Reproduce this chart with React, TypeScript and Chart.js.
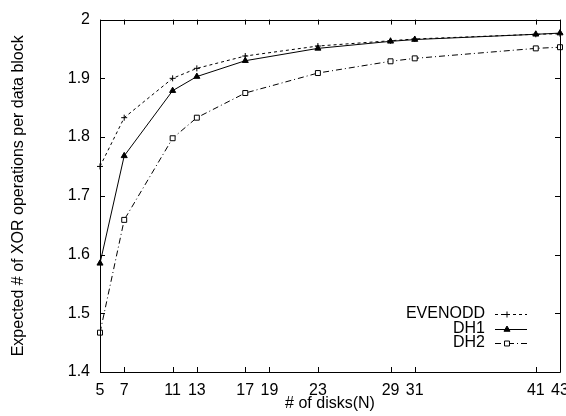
import React, { useEffect, useRef } from "react";
import { Chart, registerables } from "chart.js";
import { drawPoint } from "chart.js/helpers";

Chart.register(...registerables);

const xValues = [5, 7, 11, 13, 17, 23, 29, 31, 41, 43];
const xTicks = [5, 7, 11, 13, 17, 19, 23, 29, 31, 41, 43];
const yTicks = [1.4, 1.5, 1.6, 1.7, 1.8, 1.9, 2.0];
const evenodd = [1.75, 1.833, 1.9, 1.917, 1.938, 1.955, 1.964, 1.967, 1.975, 1.976];
const dh1 = [1.585, 1.768, 1.879, 1.903, 1.93, 1.951, 1.963, 1.966, 1.975, 1.977];
const dh2 = [1.467, 1.659, 1.798, 1.833, 1.875, 1.909, 1.929, 1.934, 1.951, 1.953];
const seriesNames = ["EVENODD", "DH1", "DH2"];

const FONT = "'Liberation Sans', Arial, Helvetica, sans-serif";

const framePlugin = {
  id: "frame",
  afterDatasetsDraw(chart: any) {
    const { ctx, chartArea } = chart;
    const { left, right, top, bottom } = chartArea;
    const xs = chart.scales.x;
    const ys = chart.scales.y;
    const tl = 5;
    ctx.save();
    ctx.strokeStyle = "#000";
    ctx.lineWidth = 1;
    ctx.setLineDash([]);
    ctx.beginPath();
    ctx.rect(Math.round(left) + 0.5, Math.round(top) + 0.5, Math.round(right - left), Math.round(bottom - top));
    ctx.stroke();
    ctx.beginPath();
    xs.ticks.forEach((t: any) => {
      const px = Math.round(xs.getPixelForValue(t.value)) + 0.5;
      ctx.moveTo(px, bottom);
      ctx.lineTo(px, bottom - tl);
      ctx.moveTo(px, top);
      ctx.lineTo(px, top + tl);
    });
    ys.ticks.forEach((t: any) => {
      const py = Math.round(ys.getPixelForValue(t.value)) + 0.5;
      ctx.moveTo(left, py);
      ctx.lineTo(left + tl, py);
      ctx.moveTo(right, py);
      ctx.lineTo(right - tl, py);
    });
    ctx.stroke();
    ctx.restore();
  },
};

const legendPlugin = {
  id: "customLegend",
  afterDraw(chart: any) {
    const { ctx, chartArea } = chart;
    const { right, bottom } = chartArea;
    const textRight = right - 75;
    const x0 = right - 65;
    const x1 = right - 33;
    const y0 = bottom - 58;
    const step = 14.5;
    ctx.save();
    chart.data.datasets.forEach((ds: any, i: number) => {
      const y = y0 + i * step;
      ctx.font = `16px ${FONT}`;
      ctx.fillStyle = "#000";
      ctx.textAlign = "right";
      ctx.textBaseline = "middle";
      ctx.fillText(ds.label, textRight, y);
      ctx.strokeStyle = ds.borderColor;
      ctx.lineWidth = ds.borderWidth;
      ctx.setLineDash(ds.borderDash || []);
      ctx.beginPath();
      ctx.moveTo(x0, Math.round(y) + 0.5);
      ctx.lineTo(x1, Math.round(y) + 0.5);
      ctx.stroke();
      ctx.setLineDash([]);
      ctx.fillStyle = ds.pointBackgroundColor;
      ctx.strokeStyle = ds.pointBorderColor;
      ctx.lineWidth = 1;
      drawPoint(ctx, {
        pointStyle: ds.pointStyle,
        radius: ds.pointRadius,
        borderWidth: 1,
        rotation: 0,
      } as any, (x0 + x1) / 2 - 4, Math.round(y) + 0.5);
    });
    ctx.restore();
  },
};

export default function App() {
  const ref = useRef<HTMLCanvasElement | null>(null);
  useEffect(() => {
    if (!ref.current) return;
    const mk = (arr: number[]) => xValues.map((x, i) => ({ x, y: arr[i] }));
    const chart = new Chart(ref.current, {
      type: "line",
      data: {
        datasets: [
          {
            label: seriesNames[0],
            data: mk(evenodd),
            borderColor: "#000",
            borderWidth: 1,
            borderDash: [3, 3],
            pointStyle: "cross",
            pointRadius: 3,
            pointBorderColor: "#000",
            pointBackgroundColor: "#000",
            pointBorderWidth: 1,
            clip: false,
          } as any,
          {
            label: seriesNames[1],
            data: mk(dh1),
            borderColor: "#000",
            borderWidth: 1,
            borderDash: [],
            pointStyle: "triangle",
            pointRadius: 3.5,
            pointBorderColor: "#000",
            pointBackgroundColor: "#000",
            pointBorderWidth: 1,
            clip: false,
          } as any,
          {
            label: seriesNames[2],
            data: mk(dh2),
            borderColor: "#000",
            borderWidth: 1,
            borderDash: [6, 3, 1, 3],
            pointStyle: "rect",
            pointRadius: 3.5,
            pointBorderColor: "#000",
            pointBackgroundColor: "#fff",
            pointBorderWidth: 1,
            clip: false,
          } as any,
        ],
      },
      options: {
        responsive: false,
        animation: false,
        devicePixelRatio: 1,
        layout: { padding: { top: 14, right: 30, left: 0, bottom: 0 } },
        plugins: { legend: { display: false }, tooltip: { enabled: false } },
        elements: { line: { tension: 0 } },
        scales: {
          x: {
            type: "linear",
            min: 5,
            max: 43,
            grid: { display: false, drawTicks: false },
            border: { display: false },
            afterBuildTicks: (s: any) => {
              s.ticks = xTicks.map((v) => ({ value: v }));
            },
            afterFit: (s: any) => {
              s.height = 44;
            },
            ticks: {
              autoSkip: false,
              maxRotation: 0,
              padding: 9,
              color: "#000",
              font: { family: FONT, size: 16 },
              callback: (v: any) => String(v),
            },
            title: {
              display: true,
              text: "# of disks(N)",
              color: "#000",
              font: { family: FONT, size: 16 },
              padding: { top: 0, bottom: 3 },
            },
          },
          y: {
            type: "linear",
            min: 1.4,
            max: 2,
            grid: { display: false, drawTicks: false },
            border: { display: false },
            afterBuildTicks: (s: any) => {
              s.ticks = yTicks.map((v) => ({ value: v }));
            },
            afterFit: (s: any) => {
              s.width = 100;
            },
            ticks: {
              padding: 10,
              color: "#000",
              font: { family: FONT, size: 16 },
              callback: (v: any) => String(Number(Number(v).toFixed(1))),
            },
            title: {
              display: true,
              text: "Expected # of XOR operations per data block",
              color: "#000",
              font: { family: FONT, size: 16 },
              padding: { top: 9, bottom: 0 },
            },
          },
        },
      },
      plugins: [framePlugin, legendPlugin],
    });
    return () => chart.destroy();
  }, []);
  return (
    <div style={{ position: "fixed", left: 0, top: 0, width: 566, height: 416, overflow: "hidden", background: "#fff" }}>
      <canvas ref={ref} width={590} height={416} style={{ display: "block" }} />
    </div>
  );
}
